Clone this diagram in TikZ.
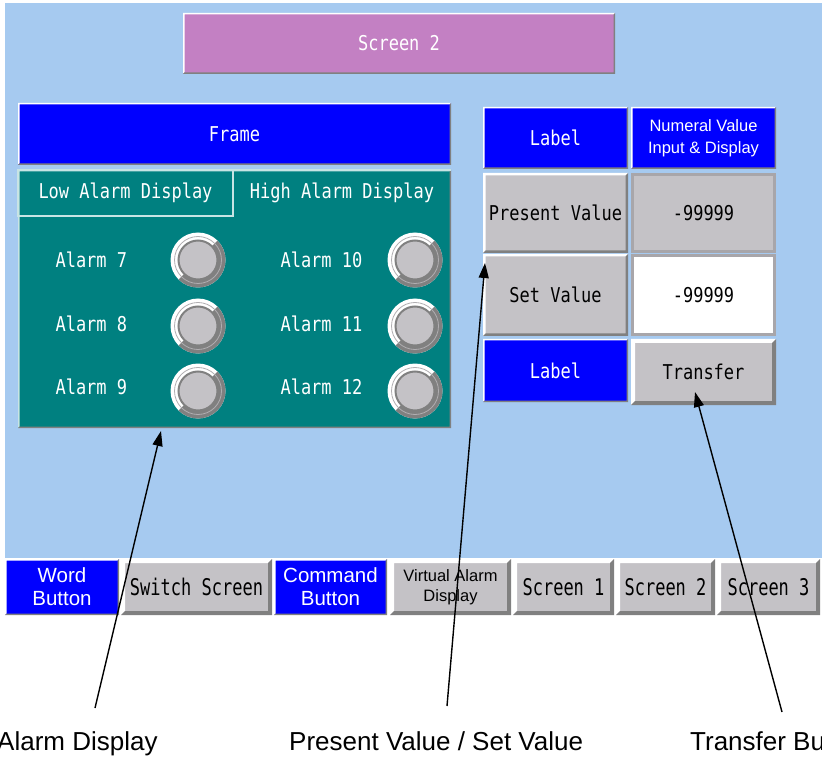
\documentclass[tikz,border=0pt]{standalone}
\usepackage{graphicx}
\usepackage{fontspec}
\setmainfont{Liberation Sans}
\newfontfamily\pixfont{DejaVu Sans Mono}
\usetikzlibrary{arrows.meta}
\definecolor{scrbg}{RGB}{166,202,240}
\definecolor{titlepurple}{RGB}{195,128,195}
\definecolor{uiblue}{RGB}{0,0,255}
\definecolor{teal}{RGB}{0,128,128}
\definecolor{cellgray}{RGB}{196,194,198}
\definecolor{bevdark}{RGB}{128,128,128}
\definecolor{tabcol}{RGB}{200,228,228}
\definecolor{framegray}{RGB}{168,166,170}
\newcommand\px[1]{\scalebox{1}[1.2]{#1}}
\newcommand\pxb[1]{\scalebox{1}[1.35]{#1}}
\newcommand\bevel[4]{%
 \fill[#3] (#1.north west) -- (#1.north east) -- ([shift={(-#2pt,-#2pt)}]#1.north east) -- ([shift={(#2pt,-#2pt)}]#1.north west) -- ([shift={(#2pt,#2pt)}]#1.south west) -- (#1.south west) -- cycle;
 \fill[#4] (#1.south east) -- (#1.north east) -- ([shift={(-#2pt,-#2pt)}]#1.north east) -- ([shift={(-#2pt,#2pt)}]#1.south east) -- ([shift={(#2pt,#2pt)}]#1.south west) -- (#1.south west) -- cycle;}
\tikzset{
 cell/.style={anchor=north west, inner sep=0pt, outer sep=0pt},
 pix/.style={font=\pixfont\fontsize{17}{20}\selectfont, text=white},
 pixdark/.style={font=\pixfont\fontsize{17}{20}\selectfont, text=black},
 ui/.style={font=\fontsize{16.5}{21.5}\selectfont, text=white, align=center},
 bar/.style={font=\fontsize{20.5}{23}\selectfont, text=white, align=center},
 callout/.style={font=\fontsize{26}{30}\selectfont, anchor=base west, inner sep=0pt},
 ptr/.style={line width=1.4pt, -{Triangle[length=15pt,width=10pt]}},
 tabline/.style={draw=tabcol, line width=1.2pt},
 framecell/.style={cell, draw=framegray, line width=3pt, inner sep=0pt},
 lamp/.style={circle, inner sep=0pt, outer sep=0pt, minimum size=55pt, fill=white, path picture={
   \fill[bevdark] (path picture bounding box.center) -- ++(45:29pt) arc[start angle=45, end angle=-135, radius=29pt] -- cycle;
   \draw[cellgray!70!bevdark, line width=0.8pt] (path picture bounding box.center) circle[radius=23.5pt];
   \fill[cellgray, draw=bevdark, line width=2pt] (path picture bounding box.center) circle[radius=19.5pt];
 }}
}
\begin{document}
\begin{tikzpicture}[x=1pt,y=-1pt]
\useasboundingbox (0,0) rectangle (822,759);
\clip (0,0) rectangle (822,759);
\fill[white] (0,0) rectangle (822,759);
\fill[scrbg] (5,3) rectangle (823,558);

% title
\node[cell, pix, fill=titlepurple, minimum width=432pt, minimum height=61pt] (title) at (183,13) {\px{Screen 2}};
\bevel{title}{1.5}{white}{bevdark}

% frame
\node[cell, pix, fill=uiblue, minimum width=433pt, minimum height=62pt] (frame) at (18,103) {\px{Frame}};
\bevel{frame}{1.5}{white}{bevdark}
\node[cell, fill=teal, minimum width=433pt, minimum height=258pt] (panel) at (18,170) {};
\bevel{panel}{1.5}{tabcol}{bevdark}
\node[cell, pix, minimum width=215pt, minimum height=46pt, tabline] (lowtab) at (18,170) {\px{Low Alarm Display}};
\node[cell, pix, minimum width=218pt, minimum height=46pt] (hightab) at (233,170) {\px{High Alarm Display}};
\draw[tabline] (hightab.north west) -- (hightab.north east);

% alarms
\node[pix, anchor=west] (t7) at (52,260) {\px{Alarm 7}};
\node[pix, anchor=west] (t8) at (52,324) {\px{Alarm 8}};
\node[pix, anchor=west] (t9) at (52,387) {\px{Alarm 9}};
\node[pix, anchor=west] (t10) at (277,260) {\px{Alarm 10}};
\node[pix, anchor=west] (t11) at (277,324) {\px{Alarm 11}};
\node[pix, anchor=west] (t12) at (277,387) {\px{Alarm 12}};
\node[lamp] (l7) at (198,260) {};
\node[lamp] (l8) at (198,326) {};
\node[lamp] (l9) at (198,391) {};
\node[lamp] (l10) at (415,260) {};
\node[lamp] (l11) at (415,326) {};
\node[lamp] (l12) at (415,391) {};

% right table
\node[cell, pix, fill=uiblue, minimum width=145pt, minimum height=62pt] (lab1) at (483,107) {\px{Label}};
\bevel{lab1}{1.5}{white}{bevdark}
\node[cell, ui, fill=uiblue, minimum width=145pt, minimum height=62pt] (numv) at (631,107) {Numeral Value\\Input \& Display};
\bevel{numv}{1.5}{white}{bevdark}
\node[cell, pixdark, fill=cellgray, minimum width=145pt, minimum height=80pt] (pv) at (483,173) {\px{Present Value}};
\bevel{pv}{2.5}{white}{bevdark}
\node[framecell, pixdark, fill=cellgray, minimum width=142pt, minimum height=77pt] (pvn) at (632.5,174.5) {\px{-99999}};
\node[cell, pixdark, fill=cellgray, minimum width=145pt, minimum height=82pt] (sv) at (483,254) {\px{Set Value}};
\bevel{sv}{2.5}{white}{bevdark}
\node[framecell, pixdark, fill=white, minimum width=142pt, minimum height=79pt] (svn) at (632.5,255.5) {\px{-99999}};
\node[cell, pix, fill=uiblue, minimum width=145pt, minimum height=63pt] (lab2) at (483,339) {\px{Label}};
\bevel{lab2}{1.5}{white}{bevdark}
\node[cell, pixdark, fill=cellgray, minimum width=145pt, minimum height=66pt] (xfer) at (631,339) {\px{Transfer}};
\bevel{xfer}{4}{white}{bevdark}

% bottom bar
\node[cell, bar, fill=uiblue, minimum width=114pt, minimum height=56pt] (b1) at (5,559) {Word\\Button};
\bevel{b1}{1.5}{white}{bevdark}
\node[cell, pixdark, fill=cellgray, minimum width=151pt, minimum height=56pt] (b2) at (121,559) {\pxb{Switch Screen}};
\bevel{b2}{4}{white}{bevdark}
\node[cell, bar, fill=uiblue, minimum width=113pt, minimum height=56pt] (b3) at (274,559) {Command\\Button};
\bevel{b3}{1.5}{white}{bevdark}
\node[cell, fill=cellgray, font=\fontsize{16.5}{20}\selectfont, align=center, minimum width=121pt, minimum height=56pt] (b4) at (390,559) {Virtual Alarm\\Display};
\bevel{b4}{4}{white}{bevdark}
\node[cell, pixdark, fill=cellgray, minimum width=101pt, minimum height=56pt] (b5) at (513,559) {\pxb{Screen 1}};
\bevel{b5}{4}{white}{bevdark}
\node[cell, pixdark, fill=cellgray, minimum width=99pt, minimum height=56pt] (b6) at (616,559) {\pxb{Screen 2}};
\bevel{b6}{4}{white}{bevdark}
\node[cell, pixdark, fill=cellgray, minimum width=103pt, minimum height=56pt] (b7) at (717,559) {\pxb{Screen 3}};
\bevel{b7}{4}{white}{bevdark}

% callouts
\node[callout] (c1) at (-3,750) {Alarm Display};
\node[callout] (c2) at (289,750) {Present Value / Set Value};
\node[callout] (c3) at (690,750) {Transfer Button};
\coordinate (s1) at (95,708);
\coordinate (s2) at (447,706);
\coordinate (s3) at (782,712);
\coordinate (e1) at (161,431);
\coordinate (e2) at (485,263);
\coordinate (e3) at (695,392);
\draw[ptr] (s1) -- (e1);
\draw[ptr] (s2) -- (e2);
\draw[ptr] (s3) -- (e3);
\end{tikzpicture}
\end{document}
